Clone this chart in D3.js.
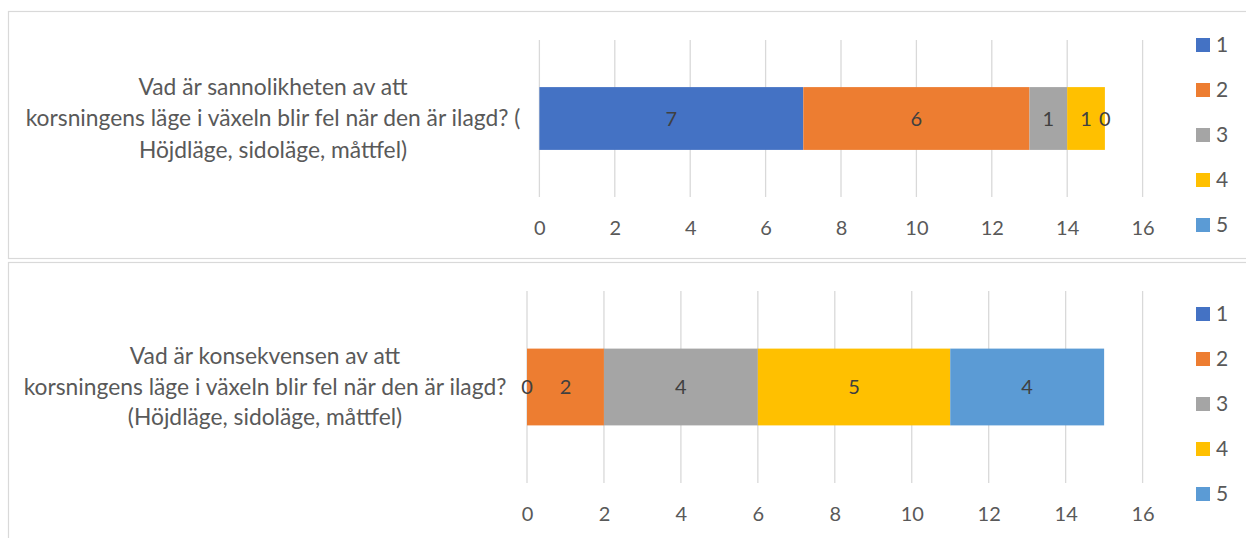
<!DOCTYPE html>
<html>
<head>
<meta charset="utf-8">
<script src="https://cdn.jsdelivr.net/npm/d3@7"></script>
<style>
  html, body { margin: 0; padding: 0; background: #fff; }
  svg { display: block; }
  text { font-family: "Lato", "Open Sans", sans-serif; }
</style>
</head>
<body>
<svg id="chart" width="1246" height="538"></svg>
<script>
// Likert answers (1–5) for two questions about the crossing position in the switch
const seriesNames = ["1", "2", "3", "4", "5"];

const questionSannolikhet = [
  "Vad är sannolikheten av att",
  "korsningens läge i växeln blir fel när den är ilagd? (",
  "Höjdläge, sidoläge, måttfel)"
];
const valuesSannolikhet = [7, 6, 1, 1, 0];

const questionKonsekvens = [
  "Vad är konsekvensen av att",
  "korsningens läge i växeln blir fel när den är ilagd?",
  "(Höjdläge, sidoläge, måttfel)"
];
const valuesKonsekvens = [0, 2, 4, 5, 4];

const xTicks = [0, 2, 4, 6, 8, 10, 12, 14, 16];

const palette = ["#4472C4", "#ED7D31", "#A5A5A5", "#FFC000", "#5B9BD5"];

const svg = d3.select("#chart");

const panels = [
  {
    lines: questionSannolikhet, values: valuesSannolikhet,
    frameY: 11.5, frameH: 247,
    plot: { left: 539.4, right: 1142.6, top: 40, bottom: 197 },
    labelX: 273, lineGap: 31.5,
    legendTop: 45
  },
  {
    lines: questionKonsekvens, values: valuesKonsekvens,
    frameY: 262.5, frameH: 400,
    plot: { left: 527, right: 1142.6, top: 291, bottom: 483 },
    labelX: 265, lineGap: 30.5,
    legendTop: 314
  }
];

panels.forEach(p => drawPanel(svg.append("g"), p));

function drawPanel(g, p) {
  // chart frame
  g.append("rect")
    .attr("x", 8.5).attr("y", p.frameY)
    .attr("width", 1300).attr("height", p.frameH)
    .attr("fill", "#fff")
    .attr("stroke", "#d9d9d9").attr("stroke-width", 1.2);

  const x = d3.scaleLinear().domain([0, 16]).range([p.plot.left, p.plot.right]);
  const y = d3.scaleBand().domain(["q"]).range([p.plot.top, p.plot.bottom]).padding(0.4286);

  // vertical gridlines
  g.append("g").selectAll("line").data(xTicks).join("line")
    .attr("x1", d => x(d)).attr("x2", d => x(d))
    .attr("y1", p.plot.top).attr("y2", p.plot.bottom)
    .attr("stroke", "#d9d9d9").attr("stroke-width", 1.3);

  // stacked segments
  const stackData = [Object.fromEntries(seriesNames.map((s, i) => [s, p.values[i]]))];
  const stacked = d3.stack().keys(seriesNames)(stackData);

  const seg = g.append("g");
  seg.selectAll("rect").data(stacked).join("rect")
    .attr("x", d => x(d[0][0]))
    .attr("width", d => x(d[0][1]) - x(d[0][0]))
    .attr("y", y("q"))
    .attr("height", y.bandwidth())
    .attr("fill", (d, i) => palette[i]);

  seg.selectAll("text").data(stacked).join("text")
    .attr("x", d => x((d[0][0] + d[0][1]) / 2))
    .attr("y", y("q") + y.bandwidth() / 2)
    .attr("dy", "0.35em")
    .attr("text-anchor", "middle")
    .attr("fill", "#404040")
    .attr("font-size", 20)
    .text(d => d[0].data[d.key]);

  // value axis
  const axis = g.append("g")
    .attr("transform", `translate(0,${p.plot.bottom})`)
    .call(d3.axisBottom(x).tickValues(xTicks).tickSize(0).tickFormat(d3.format("d")));
  axis.select(".domain").remove();
  axis.selectAll("text")
    .attr("y", 31).attr("dy", "0.35em")
    .attr("fill", "#595959")
    .attr("font-size", 20)
    .style("font-family", "Lato, 'Open Sans', sans-serif");

  // category label
  const cy = y("q") + y.bandwidth() / 2;
  g.append("text")
    .attr("text-anchor", "middle")
    .attr("fill", "#595959")
    .attr("font-size", 22.8)
    .selectAll("tspan").data(p.lines).join("tspan")
    .attr("x", p.labelX)
    .attr("y", (d, i) => cy + (i - 1) * p.lineGap)
    .attr("dy", "0.35em")
    .text(d => d);

  // legend
  const leg = g.append("g").selectAll("g").data(seriesNames).join("g")
    .attr("transform", (d, i) => `translate(1196,${p.legendTop + i * 45})`);
  leg.append("rect")
    .attr("x", 0).attr("y", -7).attr("width", 14).attr("height", 14)
    .attr("fill", (d, i) => palette[i]);
  leg.append("text")
    .attr("x", 20).attr("dy", "0.35em")
    .attr("fill", "#595959")
    .attr("font-size", 21)
    .text(d => d);
}
</script>
</body>
</html>
